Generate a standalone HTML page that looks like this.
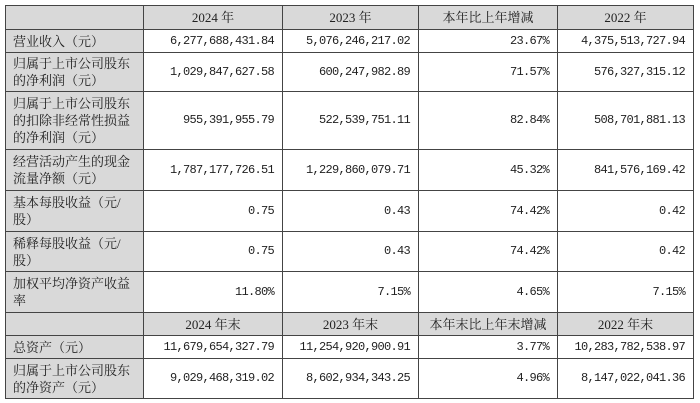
<!DOCTYPE html>
<html><head><meta charset="utf-8"><style>
html,body{margin:0;padding:0;background:#fff;width:700px;height:403px;overflow:hidden}
table{position:absolute;left:5px;top:5px;border-collapse:collapse;table-layout:fixed;
font-family:"Liberation Serif","Noto Serif CJK SC",serif;font-size:13px;color:#222}
td{border:1px solid #444;padding:0 8px;line-height:17px;vertical-align:middle;overflow:hidden}
td.l{background:#d9d9d9;text-align:left;padding-left:7px}
tr.h td{background:#d9d9d9;text-align:center}
td.n{text-align:right;font-family:"Liberation Mono",monospace;font-size:12px;letter-spacing:-0.7px}
</style></head><body>
<table>
<colgroup><col style="width:138px"><col style="width:139px"><col style="width:136px"><col style="width:139px"><col style="width:136px"></colgroup>
<tr class="h" style="height:24px"><td></td><td>2024 年</td><td>2023 年</td><td>本年比上年增减</td><td>2022 年</td></tr>
<tr style="height:23px"><td class="l">营业收入（元）</td><td class="n">6,277,688,431.84</td><td class="n">5,076,246,217.02</td><td class="n">23.67%</td><td class="n">4,375,513,727.94</td></tr>
<tr style="height:39px"><td class="l">归属于上市公司股东的净利润（元）</td><td class="n">1,029,847,627.58</td><td class="n">600,247,982.89</td><td class="n">71.57%</td><td class="n">576,327,315.12</td></tr>
<tr style="height:58px"><td class="l">归属于上市公司股东的扣除非经常性损益的净利润（元）</td><td class="n">955,391,955.79</td><td class="n">522,539,751.11</td><td class="n">82.84%</td><td class="n">508,701,881.13</td></tr>
<tr style="height:41px"><td class="l">经营活动产生的现金流量净额（元）</td><td class="n">1,787,177,726.51</td><td class="n">1,229,860,079.71</td><td class="n">45.32%</td><td class="n">841,576,169.42</td></tr>
<tr style="height:41px"><td class="l">基本每股收益（元/股）</td><td class="n">0.75</td><td class="n">0.43</td><td class="n">74.42%</td><td class="n">0.42</td></tr>
<tr style="height:40px"><td class="l">稀释每股收益（元/股）</td><td class="n">0.75</td><td class="n">0.43</td><td class="n">74.42%</td><td class="n">0.42</td></tr>
<tr style="height:41px"><td class="l">加权平均净资产收益率</td><td class="n">11.80%</td><td class="n">7.15%</td><td class="n">4.65%</td><td class="n">7.15%</td></tr>
<tr class="h" style="height:23px"><td class="l"></td><td>2024 年末</td><td>2023 年末</td><td>本年末比上年末增减</td><td>2022 年末</td></tr>
<tr style="height:23px"><td class="l">总资产（元）</td><td class="n">11,679,654,327.79</td><td class="n">11,254,920,900.91</td><td class="n">3.77%</td><td class="n">10,283,782,538.97</td></tr>
<tr style="height:40px"><td class="l">归属于上市公司股东的净资产（元）</td><td class="n">9,029,468,319.02</td><td class="n">8,602,934,343.25</td><td class="n">4.96%</td><td class="n">8,147,022,041.36</td></tr>
</table>
</body></html>
